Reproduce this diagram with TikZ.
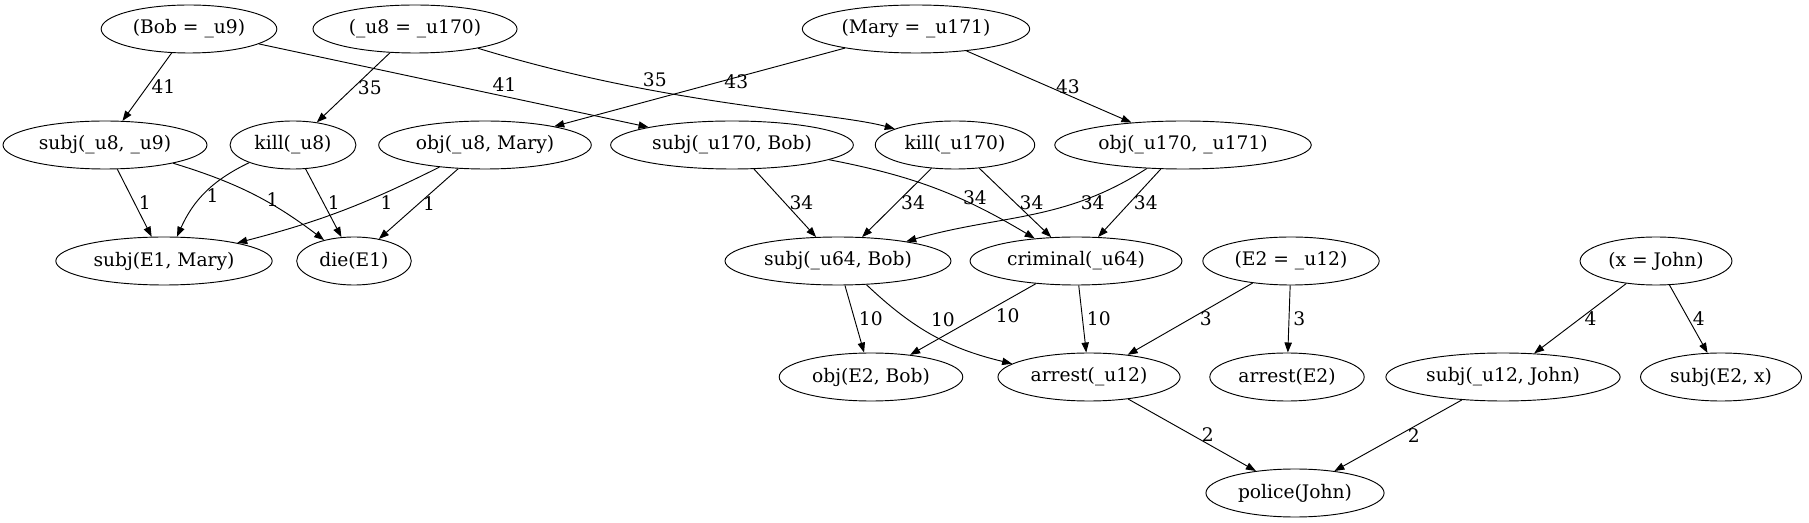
\documentclass[tikz,border=0pt]{standalone}
\usepackage{fontspec}
\setmainfont{DejaVu Serif}
\usetikzlibrary{arrows.meta, shapes.geometric}

\begin{document}
\begin{tikzpicture}[
		x=0.75pt, y=0.75pt,
		>={Triangle[length=7.5pt, width=5.5pt]},
		font=\fontsize{14}{16}\selectfont,
		term/.style={draw, ellipse, line width=0.7pt, inner xsep=4.5pt, inner ysep=1pt, minimum height=36pt},
		edge/.style={->, line width=0.7pt},
		lbl/.style={inner sep=3pt}
		]
		
		\useasboundingbox (0,0) rectangle (1809,-523);
		
		% =========================================================
		% 1. Equalities (top row)
		% =========================================================
		\node[term] (BobEq)  at (189,-29) {(Bob = \_u9)};
		\node[term] (U8Eq)   at (415,-29) {(\_u8 = \_u170)};
		\node[term] (MaryEq) at (916,-29) {(Mary = \_u171)};
		
		% =========================================================
		% 2. Terms
		% =========================================================
		\node[term] (SubjU8)   at (105,-145)  {subj(\_u8, \_u9)};
		\node[term] (KillU8)   at (293,-145)  {kill(\_u8)};
		\node[term] (ObjU8)    at (485,-145)  {obj(\_u8, Mary)};
		\node[term] (SubjU170) at (732,-145)  {subj(\_u170, Bob)};
		\node[term] (KillU170) at (955,-145)  {kill(\_u170)};
		\node[term] (ObjU170)  at (1183,-145) {obj(\_u170, \_u171)};
		
		\node[term] (SubjE1)   at (164,-261)  {subj(E1, Mary)};
		\node[term] (DieE1)    at (354,-261)  {die(E1)};
		\node[term] (SubjU64)  at (838,-261)  {subj(\_u64, Bob)};
		\node[term] (Criminal) at (1076,-261) {criminal(\_u64)};
		\node[term] (E2Eq)     at (1291,-261) {(E2 = \_u12)};
		\node[term] (XEq)      at (1656,-261) {(x = John)};
		
		\node[term] (ObjE2)     at (871,-377)  {obj(E2, Bob)};
		\node[term] (ArrestU12) at (1089,-377) {arrest(\_u12)};
		\node[term] (ArrestE2)  at (1287,-377) {arrest(E2)};
		\node[term] (SubjU12)   at (1503,-377) {subj(\_u12, John)};
		\node[term] (SubjE2)    at (1721,-377) {subj(E2, x)};
		
		\node[term] (Police) at (1295,-493) {police(John)};
		
		% =========================================================
		% 3. Weighted edges
		% =========================================================
		\draw[edge] (BobEq) -- (SubjU8) node[lbl, midway, right] {41};
		\draw[edge] (BobEq) -- (SubjU170) node[lbl, pos=0.63, above] {41};
		\draw[edge] (U8Eq) -- (KillU8) node[lbl, midway, right] {35};
		\draw[edge] (U8Eq) to[out=-17, in=165, out looseness=1.2, in looseness=0.4] node[lbl, pos=0.33, above] {35} (KillU170);
		\draw[edge] (MaryEq) -- (ObjU8) node[lbl, pos=0.43, right] {43};
		\draw[edge] (MaryEq) -- (ObjU170) node[lbl, pos=0.5, right=2pt] {43};
		
		\draw[edge] (SubjU8) -- (SubjE1) node[lbl, midway, right] {1};
		\draw[edge] (SubjU8) to[bend left=10] node[lbl, pos=0.57, right] {1} (DieE1);
		\draw[edge] (KillU8) to[bend right=20] node[lbl, pos=0.55, right] {1} (SubjE1);
		\draw[edge] (KillU8) -- (DieE1) node[lbl, midway, right] {1};
		\draw[edge] (ObjU8) to[bend left=6] node[lbl, pos=0.38, right=10pt] {1} (SubjE1);
		\draw[edge] (ObjU8) -- (DieE1) node[lbl, midway, right] {1};
		
		\draw[edge] (SubjU170) -- (SubjU64) node[lbl, midway, right] {34};
		\draw[edge] (SubjU170) to[bend left=10] node[lbl, pos=0.62, right] {34} (Criminal);
		\draw[edge] (KillU170) -- (SubjU64) node[lbl, midway, right] {34};
		\draw[edge] (KillU170) -- (Criminal) node[lbl, midway, right] {34};
		\draw[edge] (ObjU170) to[out=213, in=16] node[lbl, pos=0.3, right] {34} (SubjU64);
		\draw[edge] (ObjU170) -- (Criminal) node[lbl, midway, right] {34};
		
		\draw[edge] (SubjU64) -- (ObjE2) node[lbl, midway, right] {10};
		\draw[edge] (SubjU64) to[bend right=15] node[lbl, pos=0.45, above right] {10} (ArrestU12);
		\draw[edge] (Criminal) -- (ObjE2) node[lbl, pos=0.45, right=9pt] {10};
		\draw[edge] (Criminal) -- (ArrestU12) node[lbl, midway, right] {10};
		\draw[edge] (E2Eq) -- (ArrestU12) node[lbl, midway, right=4pt] {3};
		\draw[edge] (E2Eq) -- (ArrestE2) node[lbl, midway, right] {3};
		\draw[edge] (XEq) -- (SubjU12) node[lbl, midway, right] {4};
		\draw[edge] (XEq) -- (SubjE2) node[lbl, midway, right] {4};
		
		\draw[edge] (ArrestU12) -- (Police) node[lbl, midway, right=4pt] {2};
		\draw[edge] (SubjU12) -- (Police) node[lbl, midway, right=4pt] {2};
	\end{tikzpicture}
\end{document}
